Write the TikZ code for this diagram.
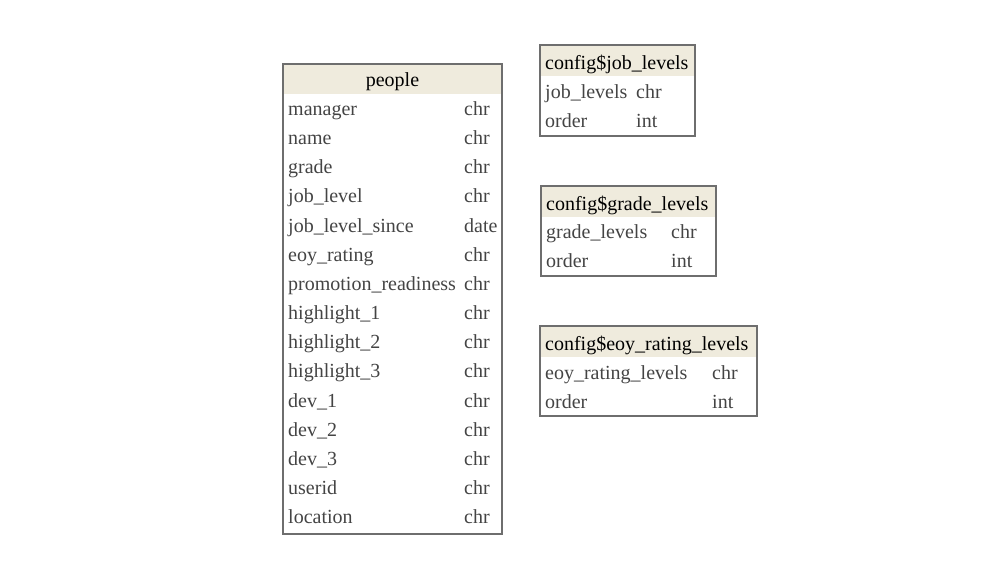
\documentclass[tikz,border=0pt]{standalone}
\usepackage{fontspec}
\setmainfont{Liberation Serif}
\definecolor{hdr}{HTML}{EFEBDD}
\definecolor{bord}{HTML}{6E6E6E}
\definecolor{txt}{HTML}{444444}
\begin{document}
\begin{tikzpicture}[x=1pt,y=-1pt,
  tbl/.style={draw=bord,line width=1.2pt},
  fld/.style={anchor=mid west,inner sep=0pt,text=txt,font=\fontsize{20}{22}\selectfont,yshift=-4pt},
  ttl/.style={anchor=mid west,inner sep=0pt,text=black,font=\fontsize{20}{22}\selectfont,yshift=-4pt},
  ttlc/.style={anchor=mid,inner sep=0pt,text=black,font=\fontsize{20}{22}\selectfont,yshift=-4pt}]
\useasboundingbox (0,0) rectangle (1000,580);
% people
\fill[hdr] (283,64) rectangle (502,94);
\draw[tbl] (283,64) rectangle (502,534);
\node[ttlc] (people) at (392.5,80) {people};
\foreach \n/\t [count=\i from 0] in {manager/chr,name/chr,grade/chr,job\_level/chr,job\_level\_since/date,eoy\_rating/chr,promotion\_readiness/chr,highlight\_1/chr,highlight\_2/chr,highlight\_3/chr,dev\_1/chr,dev\_2/chr,dev\_3/chr,userid/chr,location/chr}{
  \node[fld] (pn\i) at (288,{109+29.18*\i}) {\n};
  \node[fld] (pt\i) at (464,{109+29.18*\i}) {\t};
}
% config$job_levels
\fill[hdr] (540,45) rectangle (695,76);
\draw[tbl] (540,45) rectangle (695,136);
\node[ttl] (jl) at (545,63) {config\$job\_levels};
\node[fld] (jl1) at (545,92) {job\_levels};
\node[fld] (jl1t) at (636,92) {chr};
\node[fld] (jl2) at (545,121) {order};
\node[fld] (jl2t) at (636,121) {int};
% config$grade_levels
\fill[hdr] (541,186) rectangle (716,217);
\draw[tbl] (541,186) rectangle (716,276);
\node[ttl] (gl) at (546,204) {config\$grade\_levels};
\node[fld] (gl1) at (546,232) {grade\_levels};
\node[fld] (gl1t) at (671,232) {chr};
\node[fld] (gl2) at (546,261) {order};
\node[fld] (gl2t) at (671,261) {int};
% config$eoy_rating_levels
\fill[hdr] (540,326) rectangle (757,357);
\draw[tbl] (540,326) rectangle (757,416);
\node[ttl] (el) at (545,344) {config\$eoy\_rating\_levels};
\node[fld] (el1) at (545,373) {eoy\_rating\_levels};
\node[fld] (el1t) at (712,373) {chr};
\node[fld] (el2) at (545,402) {order};
\node[fld] (el2t) at (712,402) {int};
\end{tikzpicture}
\end{document}
